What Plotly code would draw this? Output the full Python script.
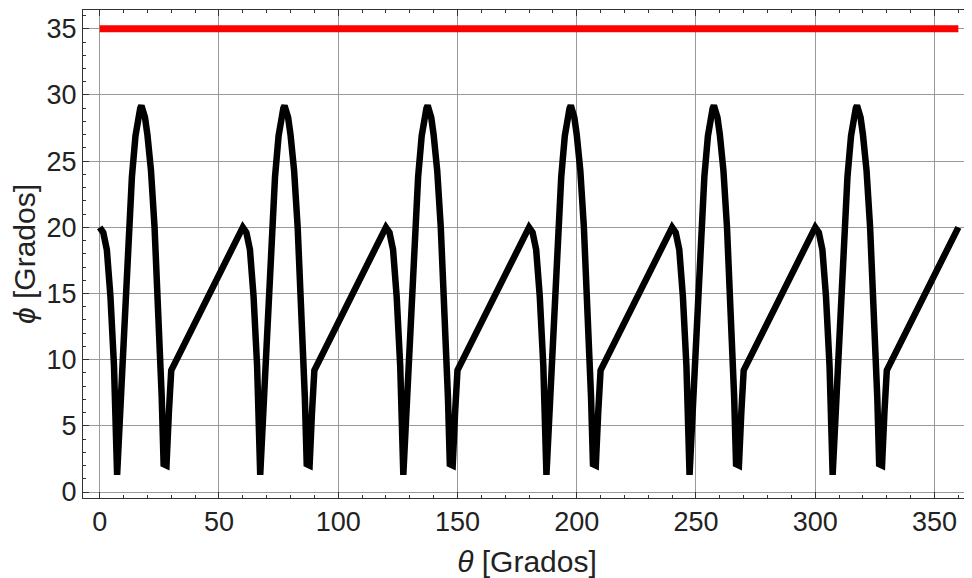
import plotly.graph_objects as go

# Black curve: theta (degrees) and phi (degrees)
theta = [
    0, 1.5, 3, 4.5, 6, 7.3, 9, 10.5, 12, 13.5, 15, 16, 17, 17.5, 18, 19, 20, 21.5, 23, 24, 25, 26, 26.8, 28, 29, 30,
    60, 61.5, 63, 64.5, 66, 67.3, 69, 70.5, 72, 73.5, 75, 76, 77, 77.5, 78, 79, 80, 81.5, 83, 84, 85, 86, 86.8, 88, 89, 90,
    120, 121.5, 123, 124.5, 126, 127.3, 129, 130.5, 132, 133.5, 135, 136, 137, 137.5, 138, 139, 140, 141.5, 143, 144, 145, 146, 146.8, 148, 149, 150,
    180, 181.5, 183, 184.5, 186, 187.3, 189, 190.5, 192, 193.5, 195, 196, 197, 197.5, 198, 199, 200, 201.5, 203, 204, 205, 206, 206.8, 208, 209, 210,
    240, 241.5, 243, 244.5, 246, 247.3, 249, 250.5, 252, 253.5, 255, 256, 257, 257.5, 258, 259, 260, 261.5, 263, 264, 265, 266, 266.8, 268, 269, 270,
    300, 301.5, 303, 304.5, 306, 307.3, 309, 310.5, 312, 313.5, 315, 316, 317, 317.5, 318, 319, 320, 321.5, 323, 324, 325, 326, 326.8, 328, 329, 330,
    360,
]
phi = [
    20, 19.6, 18.3, 14.8, 9.5, 1.3, 7.5, 13.8, 19.5, 23.8, 26.9, 28.4, 29.0, 29.2, 29.0, 28.3, 27, 24.3, 20, 16.5, 12.5, 7.2, 2.1, 2.0, 6, 9.2,
    20, 19.6, 18.3, 14.8, 9.5, 1.3, 7.5, 13.8, 19.5, 23.8, 26.9, 28.4, 29.0, 29.2, 29.0, 28.3, 27, 24.3, 20, 16.5, 12.5, 7.2, 2.1, 2.0, 6, 9.2,
    20, 19.6, 18.3, 14.8, 9.5, 1.3, 7.5, 13.8, 19.5, 23.8, 26.9, 28.4, 29.0, 29.2, 29.0, 28.3, 27, 24.3, 20, 16.5, 12.5, 7.2, 2.1, 2.0, 6, 9.2,
    20, 19.6, 18.3, 14.8, 9.5, 1.3, 7.5, 13.8, 19.5, 23.8, 26.9, 28.4, 29.0, 29.2, 29.0, 28.3, 27, 24.3, 20, 16.5, 12.5, 7.2, 2.1, 2.0, 6, 9.2,
    20, 19.6, 18.3, 14.8, 9.5, 1.3, 7.5, 13.8, 19.5, 23.8, 26.9, 28.4, 29.0, 29.2, 29.0, 28.3, 27, 24.3, 20, 16.5, 12.5, 7.2, 2.1, 2.0, 6, 9.2,
    20, 19.6, 18.3, 14.8, 9.5, 1.3, 7.5, 13.8, 19.5, 23.8, 26.9, 28.4, 29.0, 29.2, 29.0, 28.3, 27, 24.3, 20, 16.5, 12.5, 7.2, 2.1, 2.0, 6, 9.2,
    20,
]

# Red limit line
limit_theta = [0, 360]
limit_phi = [35, 35]

x_ticks = [0, 50, 100, 150, 200, 250, 300, 350]
y_ticks = [0, 5, 10, 15, 20, 25, 30, 35]

FONT = "Liberation Sans, Arial, sans-serif"

fig = go.Figure()
fig.add_trace(go.Scatter(x=theta, y=phi, mode="lines",
                         line=dict(color="black", width=6.5), showlegend=False))
fig.add_trace(go.Scatter(x=limit_theta, y=limit_phi, mode="lines",
                         line=dict(color="#ff0000", width=7), showlegend=False))

axis_common = dict(
    ticks="inside", ticklen=6, tickwidth=1, tickcolor="#333",
    showline=True, linecolor="#333", linewidth=1, mirror="ticks",
    showgrid=True, gridcolor="#999", gridwidth=1, zeroline=False,
    automargin=False,
    tickfont=dict(family=FONT, size=27, color="#222"),
)

fig.update_xaxes(range=[-7, 365.3], tickvals=x_ticks,
                 minor=dict(dtick=10, tick0=0, ticks="inside", ticklen=3, tickcolor="#333", showgrid=False),
                 title=dict(text="<i>θ</i> [Grados]", font=dict(family=FONT, size=30, color="#222"), standoff=14),
                 **axis_common)
fig.update_yaxes(range=[-0.45, 36.42], tickvals=y_ticks,
                 minor=dict(dtick=1, tick0=0, ticks="inside", ticklen=3, tickcolor="#333", showgrid=False),
                 title=dict(text="<i>ϕ</i> [Grados]", font=dict(family=FONT, size=30, color="#222"), standoff=8),
                 **axis_common)

# The page body adds an 8px margin, so the figure is sized to end at the window edge.
fig.update_layout(
    width=964, height=570,
    margin=dict(l=75, r=1, t=2, b=80),
    plot_bgcolor="white", paper_bgcolor="white",
)

fig.write_html("out.html")
